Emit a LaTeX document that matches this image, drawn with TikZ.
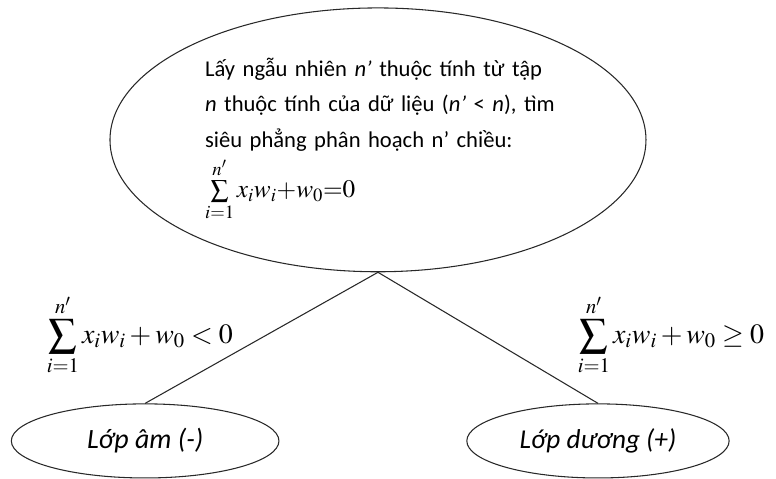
\documentclass[tikz,border=0pt]{standalone}
\usepackage{mathptmx}
\usepackage[no-math]{fontspec}
\setmainfont{Carlito}
\usetikzlibrary{shapes.geometric,positioning}
\definecolor{LineGray}{RGB}{40,40,40}
\newcommand\fullline[1]{\makebox[9.15cm][s]{#1}}

\begin{document}
\begin{tikzpicture}[
    every node/.style={inner sep=0pt},
    oval/.style={ellipse,draw=LineGray,line width=.8pt},
    branch/.style={draw=LineGray,line width=.8pt},
    rule/.style={font=\fontsize{21}{25}\selectfont}
  ]
  \useasboundingbox (0,0) rectangle (20.53,12.67);
  % question at the root
  \node[oval,minimum width=14.18cm,minimum height=6.98cm,
    text width=9.15cm,align=left,font=\fontsize{17}{26.6}\selectfont]
    (split) at (10.0,8.97) {%
      \fullline{Lấy ngẫu nhiên \textit{n’} thuộc tính từ tập}\\
      \fullline{\textit{n} thuộc tính của dữ liệu (\textit{n’} < \textit{n}), tìm}\\
      \fullline{siêu phẳng phân hoạch n’ chiều:}\\[4pt]
      {\fontsize{19}{22}\selectfont$\sum\limits_{i=1}^{n'}x_iw_i{+}w_0{=}0$}};
  % two classes
  \node[oval,minimum width=7.08cm,minimum height=1.96cm,
    font=\fontsize{21}{24}\selectfont\itshape] (neg) at (3.84,1.005) {Lớp âm (-)};
  \node[oval,minimum width=6.94cm,minimum height=1.96cm,
    font=\fontsize{20.5}{24}\selectfont\itshape] (pos) at (15.82,1.005) {Lớp dương (+)};
  \draw[branch] (split.south) -- (neg.north);
  \draw[branch] (split.south) -- (pos.north);
  \node[rule] (lessrule) at (3.7,3.81)
    {$\displaystyle\sum_{i=1}^{n'}x_iw_i+w_0<0$};
  \node[rule] (geqrule) at (17.75,3.81)
    {$\displaystyle\sum_{i=1}^{n'}x_iw_i+w_0\geq0$};
\end{tikzpicture}
\end{document}
